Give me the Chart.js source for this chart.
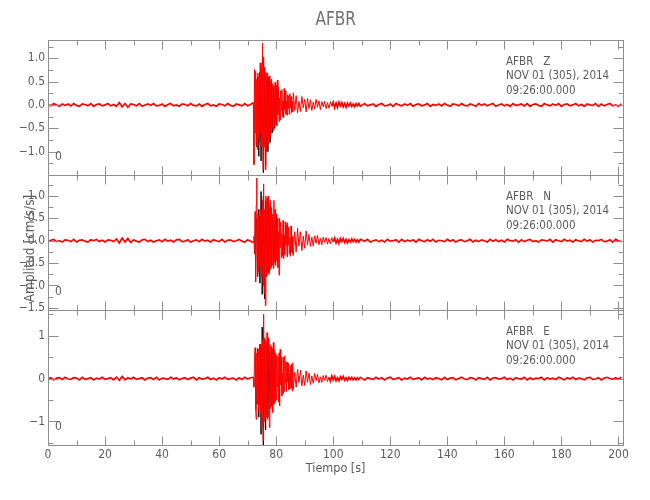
<!DOCTYPE html>
<html>
<head>
<meta charset="utf-8">
<script src="https://cdn.jsdelivr.net/npm/chart.js"></script>
<style>
	html, body { margin: 0; padding: 0; background: #fff; }
</style>
</head>
<body>
<canvas id="sismo" width="650" height="500"></canvas>
<script>
const estacion = 'AFBR';
const fecha = 'NOV 01 (305), 2014';
const hora = '09:26:00.000';
const componentes = ['Z', 'N', 'E'];

/* Tramos del registro: tiempo de inicio y paso de muestreo (s) */
const tramoPrevio = { inicio: 0, paso: 1 };
const tramoSismo = { inicio: 72, paso: 0.2 };
const tramoCoda = { inicio: 86, paso: 0.5 };
const tramoPosterior = { inicio: 110, paso: 1 };
const tramoOriginal = { inicio: 73.1, paso: 0.4 };

/* ########### Componente Z ########## */
const zPrevio = [
	0.01, -0.02, 0.03, 0.00, -0.03, 0.02, -0.01, 0.02, -0.02, 0.03,
	-0.01, -0.03, 0.02, 0.01, -0.02, 0.03, -0.03, 0.01, 0.02, -0.02,
	0.00, 0.03, -0.02, 0.01, -0.03, 0.05, -0.04, 0.03, -0.05, 0.02,
	0.01, -0.02, 0.03, -0.03, 0.00, 0.02, -0.01, 0.03, -0.02, -0.01,
	0.02, -0.03, 0.01, 0.03, -0.02, 0.00, -0.03, 0.02, 0.01, -0.02,
	0.03, -0.01, -0.02, 0.02, -0.03, 0.01, 0.03, -0.02, 0.00, -0.03,
	0.02, 0.01, -0.02, 0.03, -0.01, -0.03, 0.02, 0.00, -0.02, 0.03,
	-0.02, 0.01
];
const zSismo = [
	0.05, -1.28, 0.76, -0.6, 0.72, -0.85, 0.55, -0.95, 0.68, -0.7,
	0.6, -0.8, 0.9, -0.6, 0.75, -0.9, 1.32, -1.39, 1.03, -0.9,
	0.8, -1.39, 0.7, -1.0, 0.68, -0.85, 0.6, -0.82, 0.62, -0.7,
	0.5, -0.6, 0.55, -0.5, 0.45, -0.55, 0.4, -0.45, 0.48, -0.4,
	0.42, -0.45, 0.53, -0.2, 0.38, -0.35, 0.15, -0.32, 0.3, -0.12,
	0.33, -0.25, 0.1, -0.27, 0.35, -0.1, 0.3, -0.2, 0.08, -0.22,
	0.22, -0.08, 0.2, -0.2, 0.24, -0.06, 0.18, -0.16, 0.08, -0.15
];
const zCoda = [
	0.26, -0.12, 0.2, -0.17, 0.08, -0.14, 0.18, -0.06, 0.12, -0.15,
	0.14, -0.08, 0.11, -0.12, 0.06, -0.09, 0.12, -0.05, 0.09, -0.1,
	0.07, -0.04, 0.08, -0.08, 0.05, -0.07, 0.07, -0.03, 0.06, -0.06,
	0.04, -0.05, 0.06, -0.02, 0.05, -0.04, 0.03, -0.05, 0.04, -0.02,
	0.04, -0.03, 0.02, -0.04, 0.03, -0.02, 0.03, -0.03
];
const zPosterior = [
	-0.01, 0.03, -0.02, 0.00, 0.02, -0.03, 0.01, 0.03, -0.02, -0.01,
	0.02, -0.03, 0.03, 0.00, -0.02, 0.02, -0.01, 0.03, -0.03, 0.01,
	0.02, -0.02, 0.00, 0.03, -0.03, 0.01, -0.01, 0.02, -0.02, 0.03,
	0.00, -0.03, 0.02, 0.01, -0.02, 0.03, -0.01, -0.02, 0.02, 0.00,
	-0.03, 0.03, -0.01, 0.02, -0.02, 0.01, 0.03, -0.03, 0.00, 0.02,
	-0.02, 0.01, -0.03, 0.03, -0.01, 0.00, 0.02, -0.02, 0.03, -0.03,
	0.01, 0.02, -0.01, -0.03, 0.03, 0.00, -0.02, 0.02, -0.01, 0.03,
	-0.03, 0.01, 0.02, -0.02, 0.00, 0.03, -0.02, 0.01, -0.03, 0.02,
	0.00, -0.01, 0.03, -0.03, 0.02, -0.02, 0.01, 0.03, -0.02, 0.00,
	-0.03, 0.02
];
const zOriginal = [
	-0.9, 0.6, -1.1, 0.7, -1.2, 0.9, -1.45, 0.8, -1.3, 0.6,
	-1.0, 0.5, -0.8, 0.45, -0.6, 0.4, -0.5, 0.35
];

/* ########### Componente N ########## */
const nPrevio = [
	-0.02, 0.01, 0.03, -0.02, 0.00, -0.03, 0.02, 0.01, -0.02, 0.03,
	-0.03, 0.01, 0.02, -0.01, -0.03, 0.02, 0.00, 0.03, -0.02, 0.01,
	-0.03, 0.02, 0.01, -0.02, 0.04, -0.05, 0.06, -0.03, 0.05, -0.04,
	0.02, -0.01, -0.03, 0.02, 0.03, -0.02, 0.01, -0.03, 0.00, 0.02,
	-0.02, 0.03, -0.01, 0.01, -0.03, 0.02, 0.03, -0.02, -0.01, 0.02,
	-0.03, 0.00, 0.02, -0.02, 0.03, -0.01, 0.01, -0.03, 0.02, 0.00,
	-0.02, 0.03, -0.03, 0.01, 0.02, -0.02, 0.00, 0.03, -0.01, -0.03,
	0.02, -0.01
];
const nSismo = [
	-0.04, 0.1, -0.3, 0.65, -0.92, 0.8, 1.4, -0.75, 0.6, -0.7,
	0.55, -0.6, 0.7, -0.55, 0.6, -0.8, 0.9, -1.0, 1.27, -1.18,
	0.7, -1.45, 1.0, -0.77, 0.95, -0.7, 1.0, -0.75, 0.8, -0.65,
	0.9, -0.6, 0.75, -0.55, 0.6, -0.62, 0.9, -0.5, 0.7, -0.55,
	0.6, -0.45, 0.5, -0.6, 0.2, -0.77, 0.5, -0.15, 0.42, -0.38,
	0.15, -0.35, 0.45, -0.4, 0.12, -0.32, 0.42, -0.1, 0.35, -0.36,
	0.4, -0.1, 0.3, -0.3, 0.08, -0.35, 0.33, -0.25, 0.1, -0.28
];
const nCoda = [
	-0.33, 0.2, -0.25, 0.28, -0.12, 0.2, -0.22, 0.1, -0.17, 0.22,
	-0.1, 0.14, -0.13, 0.08, -0.12, 0.11, -0.06, 0.12, -0.09, 0.05,
	-0.09, 0.08, -0.04, 0.07, -0.08, 0.05, -0.07, 0.07, -0.03, 0.06,
	-0.05, 0.03, -0.06, 0.05, -0.02, 0.05, -0.04, 0.03, -0.05, 0.02,
	-0.03, 0.04, -0.02, 0.03, -0.03, 0.02, -0.03, 0.03
];
const nPosterior = [
	0.02, -0.01, 0.03, -0.03, 0.00, 0.02, -0.02, 0.01, -0.03, 0.03,
	-0.01, 0.00, 0.02, -0.03, 0.03, -0.02, 0.01, -0.01, 0.02, -0.03,
	0.03, 0.00, -0.02, 0.02, -0.01, 0.03, -0.03, 0.01, 0.00, -0.02,
	0.03, -0.01, 0.02, -0.03, 0.01, 0.02, -0.02, 0.00, 0.03, -0.03,
	0.01, -0.02, 0.02, 0.00, -0.03, 0.03, -0.01, 0.02, -0.02, 0.01,
	-0.03, 0.03, 0.00, -0.01, 0.02, -0.03, 0.02, -0.02, 0.01, 0.03,
	-0.02, 0.00, -0.03, 0.02, 0.01, -0.01, 0.03, -0.03, 0.02, 0.00,
	-0.02, 0.03, -0.01, 0.01, -0.03, 0.02, 0.00, -0.02, 0.03, -0.01,
	0.02, -0.03, 0.01, 0.00, 0.03, -0.02, -0.01, 0.02, -0.03, 0.03,
	0.00, -0.02
];
const nOriginal = [
	0.5, -0.8, 0.7, -0.95, 1.1, -1.2, 1.0, -1.3, 0.9, -0.8,
	0.7, -0.7, 0.6, -0.55, 0.5, -0.45, 0.4, -0.4
];

/* ########### Componente E ########## */
const ePrevio = [
	0.00, 0.02, -0.03, 0.01, 0.02, -0.02, 0.03, -0.01, -0.02, 0.02,
	0.01, -0.03, 0.03, -0.02, 0.00, 0.02, -0.03, 0.01, -0.01, 0.03,
	-0.02, 0.00, 0.02, -0.03, 0.03, -0.04, 0.05, -0.03, 0.02, -0.01,
	0.03, -0.02, 0.00, 0.02, -0.03, 0.01, 0.02, -0.02, 0.03, -0.03,
	0.01, 0.00, -0.02, 0.03, -0.01, 0.02, -0.03, 0.00, 0.02, -0.02,
	0.01, 0.03, -0.03, 0.02, -0.01, 0.00, 0.03, -0.02, 0.01, -0.03,
	0.02, -0.01, 0.03, -0.02, 0.00, 0.01, -0.03, 0.02, -0.02, 0.03,
	-0.01, 0.02
];
const eSismo = [
	0.03, -0.2, 0.4, 0.72, -0.71, -0.95, 0.6, -0.6, 0.65, -0.75,
	0.7, -0.6, 0.8, -0.8, 0.75, -1.14, 0.9, -1.45, 1.5, -1.0,
	0.95, -0.85, 0.9, -0.9, 1.07, -0.95, 0.95, 0.7, -1.14, 0.8,
	-0.7, 0.75, -0.65, 0.7, -0.79, 0.84, -0.6, 0.65, -0.55, 0.6,
	-0.5, 0.55, -0.2, 0.5, -0.55, 0.6, -0.64, 0.68, -0.15, 0.5,
	-0.4, 0.12, -0.35, 0.5, -0.3, 0.53, -0.1, 0.4, -0.3, 0.38,
	-0.08, 0.35, -0.26, 0.1, -0.24, 0.3, -0.22, 0.33, -0.29, 0.37
];
const eCoda = [
	-0.25, 0.15, -0.2, 0.22, -0.1, 0.2, -0.17, 0.08, -0.16, 0.18,
	-0.09, 0.13, -0.14, 0.06, -0.11, 0.12, -0.05, 0.1, -0.1, 0.04,
	-0.09, 0.07, -0.04, 0.08, -0.07, 0.03, -0.06, 0.06, -0.03, 0.05,
	-0.05, 0.02, -0.05, 0.04, -0.02, 0.05, -0.04, 0.02, -0.04, 0.03,
	-0.02, 0.03, -0.03, 0.02, -0.03, 0.02, -0.02, 0.03
];
const ePosterior = [
	0.01, -0.03, 0.02, 0.00, -0.02, 0.03, -0.01, 0.02, -0.03, 0.01,
	0.03, -0.02, 0.00, 0.02, -0.03, 0.01, -0.01, 0.03, -0.02, 0.00,
	0.02, -0.03, 0.03, -0.01, 0.01, -0.02, 0.02, 0.00, -0.03, 0.03,
	-0.02, 0.01, 0.02, -0.03, 0.00, 0.03, -0.01, -0.02, 0.02, 0.01,
	-0.03, 0.02, 0.00, -0.02, 0.03, -0.03, 0.01, 0.02, -0.01, 0.00,
	0.03, -0.02, 0.01, -0.03, 0.02, 0.00, -0.01, 0.03, -0.03, 0.02,
	-0.02, 0.01, 0.00, 0.03, -0.03, 0.02, -0.01, 0.01, -0.02, 0.03,
	0.00, -0.03, 0.02, -0.01, 0.03, -0.02, 0.01, 0.00, -0.03, 0.02,
	0.03, -0.02, -0.01, 0.02, -0.03, 0.01, 0.03, 0.00, -0.02, 0.02,
	-0.01, 0.03
];
const eOriginal = [
	-0.6, 0.7, -0.9, 0.8, -1.3, 1.2, -1.55, 0.9, -1.2, 0.8,
	-0.9, 0.7, -0.7, 0.6, -0.55, 0.5, -0.45, 0.4
];

/* Ejes */
const limiteX = [0, 201.7];
const ticksX = [0, 20, 40, 60, 80, 100, 120, 140, 160, 180, 200];
const menoresX = [10, 30, 50, 70, 90, 110, 130, 150, 170, 190];
const limitesY = [[-1.5, 1.39], [-1.55, 1.47], [-1.55, 1.6]];
const ticksY = [
	[-1.0, -0.5, 0, 0.5, 1.0],
	[-1.5, -1.0, -0.5, 0, 0.5, 1.0],
	[-1, 0, 1]
];
const menoresY = [
	[-1.25, -0.75, -0.25, 0.25, 0.75, 1.25],
	[-1.25, -0.75, -0.25, 0.25, 0.75, 1.25],
	[-1.5, -0.5, 0.5, 1.5]
];
const decimalesY = [1, 1, 0];

const fuente = '"DejaVu Sans Condensed", "DejaVu Sans", sans-serif';
const gris = '#8e8e8e';
const grisTexto = '#5c5c5c';

const registros = [
	{ previo: zPrevio, sismo: zSismo, coda: zCoda, posterior: zPosterior, original: zOriginal },
	{ previo: nPrevio, sismo: nSismo, coda: nCoda, posterior: nPosterior, original: nOriginal },
	{ previo: ePrevio, sismo: eSismo, coda: eCoda, posterior: ePosterior, original: eOriginal }
];

function aPuntos(tramo, valores) {
	return valores.map((v, i) => ({ x: tramo.inicio + i * tramo.paso, y: v }));
}

// el ruido de fondo se ve como una banda algo mas gruesa
function grosor(ctx) {
	const quieto = Math.abs(ctx.p0.parsed.y) < 0.065 && Math.abs(ctx.p1.parsed.y) < 0.065;
	return quieto ? 1.7 : 1;
}

const datasets = [];
componentes.forEach((c, i) => {
	const r = registros[i];
	datasets.push({
		label: estacion + ' ' + c,
		data: [].concat(
			aPuntos(tramoPrevio, r.previo),
			aPuntos(tramoSismo, r.sismo),
			aPuntos(tramoCoda, r.coda),
			aPuntos(tramoPosterior, r.posterior)
		),
		yAxisID: 'y' + c,
		borderColor: '#ff0000',
		borderWidth: 1,
		segment: { borderWidth: grosor },
		pointRadius: 0,
		tension: 0,
		clip: 0,
		order: 1
	});
	datasets.push({
		label: estacion + ' ' + c + ' original',
		data: aPuntos(tramoOriginal, r.original),
		yAxisID: 'y' + c,
		borderColor: '#000000',
		borderWidth: 1,
		pointRadius: 0,
		tension: 0,
		clip: 0,
		order: 2
	});
});

const escalas = {
	x: {
		type: 'linear',
		position: 'bottom',
		min: limiteX[0],
		max: limiteX[1],
		grid: { display: false, drawTicks: false },
		border: { display: false },
		ticks: { color: grisTexto, font: { family: fuente, size: 12 }, padding: 3, autoSkip: false, maxRotation: 0 },
		afterBuildTicks: s => { s.ticks = ticksX.map(v => ({ value: v })); },
		afterFit: s => { s.height = 33; }
	}
};
componentes.forEach((c, i) => {
	escalas['y' + c] = {
		type: 'linear',
		position: 'left',
		stack: 'paneles',
		stackWeight: 1,
		weight: 3 - i,
		min: limitesY[i][0],
		max: limitesY[i][1],
		grid: { display: false, drawTicks: false },
		border: { display: false },
		ticks: {
			color: grisTexto,
			font: { family: fuente, size: 12 },
			padding: 3,
			autoSkip: false,
			callback: v => (v < 0 ? '\u2212' : '') + Math.abs(v).toFixed(decimalesY[i])
		},
		afterBuildTicks: s => { s.ticks = ticksY[i].map(v => ({ value: v })); },
		afterFit: s => { s.width = 48; }
	};
});

function linea(ctx, x1, y1, x2, y2) {
	ctx.beginPath();
	ctx.moveTo(x1, y1);
	ctx.lineTo(x2, y2);
	ctx.stroke();
}

/* Marcos, marcas hacia adentro y textos */
const marco = {
	id: 'marco',
	afterDraw(chart) {
		const ctx = chart.ctx;
		const x = chart.scales.x;
		const izq = Math.round(x.left) + 0.5;
		const der = Math.round(x.right) + 0.5;
		ctx.save();
		ctx.strokeStyle = gris;
		ctx.lineWidth = 1;
		componentes.forEach((c, i) => {
			const y = chart.scales['y' + c];
			const arriba = Math.round(y.top) + 0.5;
			const abajo = Math.round(y.bottom) + 0.5;
			ctx.strokeRect(izq, arriba, der - izq, abajo - arriba);
			for (const v of ticksX) {
				const px = Math.round(x.getPixelForValue(v)) + 0.5;
				linea(ctx, px, arriba, px, arriba + 9);
				linea(ctx, px, abajo, px, abajo - 9);
			}
			for (const v of menoresX) {
				const px = Math.round(x.getPixelForValue(v)) + 0.5;
				linea(ctx, px, arriba, px, arriba + 5);
				linea(ctx, px, abajo, px, abajo - 5);
			}
			for (const v of ticksY[i]) {
				const py = Math.round(y.getPixelForValue(v)) + 0.5;
				linea(ctx, izq, py, izq + 10, py);
				linea(ctx, der, py, der - 10, py);
			}
			for (const v of menoresY[i]) {
				const py = Math.round(y.getPixelForValue(v)) + 0.5;
				if (py <= arriba || py >= abajo) continue;
				linea(ctx, izq, py, izq + 5, py);
				linea(ctx, der, py, der - 5, py);
			}

			ctx.fillStyle = grisTexto;
			ctx.font = '11.5px ' + fuente;
			ctx.textAlign = 'left';
			ctx.textBaseline = 'middle';
			ctx.fillText(estacion + '   ' + c, 506, y.top + 22);
			ctx.fillText(fecha, 506, y.top + 36);
			ctx.fillText(hora, 506, y.top + 51);
			ctx.font = '12px ' + fuente;
			ctx.fillText('0', x.left + 7, y.bottom - 18);
		});

		ctx.fillStyle = grisTexto;
		ctx.textAlign = 'center';
		ctx.textBaseline = 'middle';
		ctx.font = '12.5px ' + fuente;
		ctx.fillText('Tiempo [s]', (x.left + x.right) / 2, 469);

		const yN = chart.scales.yN;
		ctx.save();
		ctx.translate(30, (yN.top + yN.bottom) / 2 + 6);
		ctx.rotate(-Math.PI / 2);
		ctx.font = '13.5px ' + fuente;
		ctx.fillText('Amplitud [cm/s/s]', 0, 0);
		ctx.restore();

		ctx.save();
		ctx.translate((x.left + x.right) / 2, 20);
		ctx.scale(0.85, 1);
		ctx.font = '20px ' + fuente;
		ctx.fillStyle = '#707070';
		ctx.fillText(estacion, 0, 0);
		ctx.restore();

		ctx.restore();
	}
};

new Chart(document.getElementById('sismo'), {
	type: 'line',
	data: { datasets: datasets },
	options: {
		responsive: false,
		animation: false,
		layout: { padding: { top: 40, right: 26.7, bottom: 22, left: 0 } },
		plugins: {
			legend: { display: false },
			title: { display: false },
			tooltip: { enabled: false }
		},
		scales: escalas
	},
	plugins: [marco]
});
</script>
</body>
</html>
